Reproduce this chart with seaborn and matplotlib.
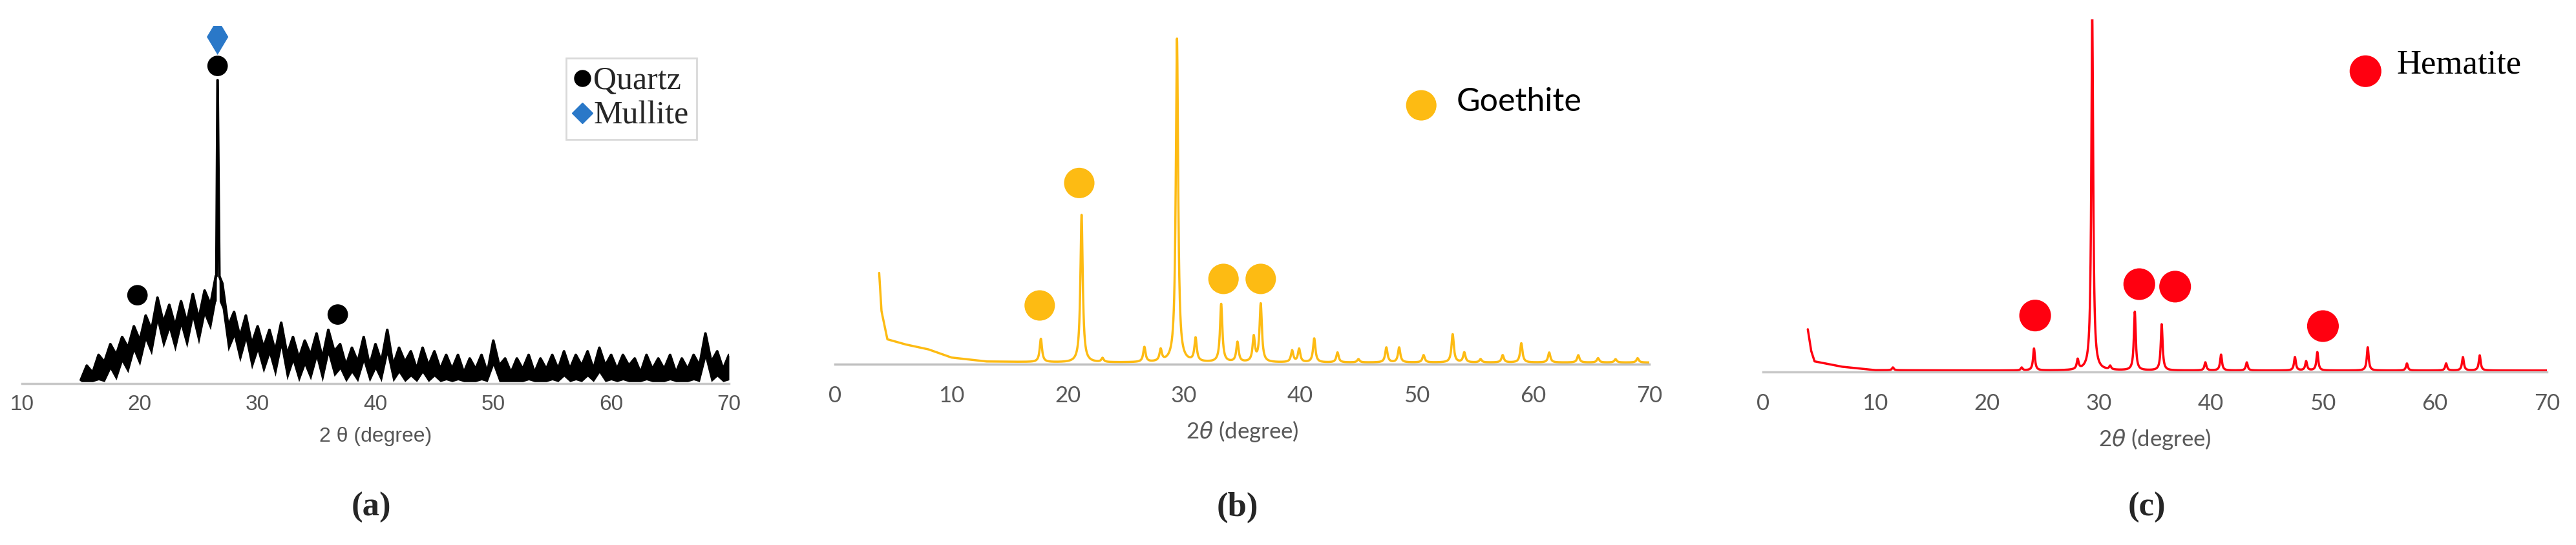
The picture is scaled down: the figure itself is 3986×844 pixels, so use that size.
import numpy as np
import pandas as pd
import matplotlib
matplotlib.use("Agg")
import matplotlib.pyplot as plt
from matplotlib.lines import Line2D
import seaborn as sns

sns.set_theme(style="white")
plt.rcParams['font.family'] = ['Liberation Sans', 'DejaVu Sans']

# ---------------- Panel (a) data ----------------
a_start, a_step = 15.0, 0.5
a_values = [0.01,0.05,0.03,0.08,0.06,0.11,0.08,0.13,0.10,0.16,
            0.12,0.19,0.15,0.24,0.17,0.22,0.16,0.23,0.17,0.25,
            0.18,0.26,0.22,0.30,0.28,0.16,0.20,0.13,0.19,0.11,
            0.16,0.10,0.15,0.09,0.17,0.08,0.13,0.07,0.12,0.08,
            0.14,0.07,0.15,0.09,0.11,0.05,0.10,0.06,0.13,0.05,
            0.11,0.06,0.15,0.05,0.10,0.06,0.09,0.04,0.10,0.05,
            0.09,0.04,0.08,0.04,0.08,0.03,0.07,0.04,0.08,0.03,
            0.12,0.05,0.07,0.03,0.07,0.04,0.08,0.03,0.07,0.04,
            0.08,0.04,0.09,0.04,0.08,0.05,0.09,0.04,0.10,0.05,
            0.08,0.04,0.08,0.05,0.07,0.03,0.08,0.04,0.07,0.04,
            0.08,0.03,0.07,0.04,0.08,0.05,0.14,0.06,0.09,0.04,
            0.08]
a_peak_theta = [26.45, 26.6, 26.75]
a_peak_vals = [0.30, 0.848, 0.30]
a_quartz_x = [19.8, 26.6, 36.8]
a_quartz_y = [0.247, 0.888, 0.193]
a_mullite_x = [26.6]
a_mullite_y = [0.969]

# ---------------- Panel (b) data ----------------
b_base_theta = [3.8, 4.0, 4.5, 6, 8, 10, 13, 20, 70]
b_base_vals = [0.275, 0.16, 0.075, 0.06, 0.045, 0.02, 0.008, 0.005, 0.005]
b_peak_pos = [17.7, 21.2, 23.0, 26.6, 28.0, 29.4, 31.0, 33.2, 34.6, 36.0, 36.6,
              39.3, 39.9, 41.2, 43.2, 45.0, 47.4, 48.5, 50.6, 53.1, 54.1, 55.5,
              57.4, 59.0, 61.4, 63.9, 65.6, 67.1, 69.0]
b_peak_h = [0.07, 0.445, 0.012, 0.045, 0.035, 0.975, 0.07, 0.175, 0.06, 0.075, 0.175,
            0.035, 0.04, 0.072, 0.03, 0.01, 0.045, 0.045, 0.022, 0.085, 0.03, 0.01,
            0.022, 0.058, 0.03, 0.022, 0.013, 0.01, 0.013]
b_mark_x = [17.6, 21.0, 33.4, 36.6]
b_mark_y = [0.177, 0.546, 0.257, 0.257]

# ---------------- Panel (c) data ----------------
c_base_theta = [4.0, 4.3, 4.6, 7, 10, 20, 70]
c_base_vals = [0.121, 0.06, 0.03, 0.015, 0.005, 0.004, 0.004]
c_peak_pos = [11.6, 23.1, 24.2, 28.1, 29.4, 31.0, 33.2, 35.6, 39.5, 40.9, 43.2,
              47.5, 48.5, 49.5, 54.0, 57.5, 61.0, 62.5, 64.0]
c_peak_h = [0.008, 0.008, 0.062, 0.028, 1.0, 0.01, 0.166, 0.131, 0.023, 0.045, 0.023,
            0.038, 0.026, 0.052, 0.066, 0.02, 0.02, 0.038, 0.043]
c_mark_x = [24.3, 33.6, 36.8, 50.0]
c_mark_y = [0.16, 0.249, 0.242, 0.13]

W, H = 3986, 844
fig = plt.figure(figsize=(W/100, H/100), dpi=100)

def box(l, r, top, bottom):
    return [l/W, 1-bottom/H, (r-l)/W, (bottom-top)/H]

def profile(start, base_t, base_v, pos, hts, width=0.12):
    x = np.linspace(start, 70, 6000)
    y = np.interp(x, base_t, base_v)
    for p, h in zip(pos, hts):
        y = y + h / (1 + ((x - p) / width) ** 2)
    return pd.DataFrame({"theta": x, "I": y})

def style_axis(ax, color="#bfbfbf"):
    for s in ["top", "right", "left"]:
        ax.spines[s].set_visible(False)
    ax.spines["bottom"].set_color(color)
    ax.spines["bottom"].set_linewidth(2.5)
    ax.set_yticks([])
    ax.set_ylabel("")

# ---- Panel a ----
axa = fig.add_axes(box(34, 1128, 40, 594))
a_theta = a_start + a_step * np.arange(len(a_values))
dfa = pd.DataFrame({"theta": np.concatenate([a_theta, a_peak_theta]),
                    "I": np.concatenate([a_values, a_peak_vals])}).sort_values("theta")
axa.fill_between(dfa["theta"], np.clip(dfa["I"] - 0.07, 0.005, None), dfa["I"],
                 color="black", lw=0)
sns.lineplot(data=dfa, x="theta", y="I", ax=axa, color="black", lw=3, sort=True)
sns.scatterplot(x=a_quartz_x, y=a_quartz_y, ax=axa, color="black", s=520, marker="o", edgecolor="none")
sns.scatterplot(x=a_mullite_x, y=a_mullite_y, ax=axa, color="#2a78c8", s=800, marker="d", edgecolor="none")
axa.set_xlim(10, 70)
axa.set_ylim(0, 1.0)
style_axis(axa, "#c8c8c8")
axa.set_xticks(range(10, 71, 10))
axa.tick_params(axis="x", direction="in", length=7, width=2, color="#c8c8c8",
                labelsize=24, labelcolor="#555555", pad=12)
axa.set_xlabel("2 θ (degree)", fontsize=23, color="#555555", labelpad=14)
handles = [Line2D([], [], marker="o", ls="", color="black", markersize=18),
           Line2D([], [], marker="D", ls="", color="#2a78c8", markersize=16)]
leg = axa.legend(handles, ["Quartz", "Mullite"], loc="upper right",
                 bbox_to_anchor=(1103/W, 1-65/H), bbox_transform=fig.transFigure,
                 prop={"family": "Liberation Serif", "size": 36}, frameon=True,
                 fancybox=False, edgecolor="#d0d0d0", handlelength=0.5,
                 handletextpad=0.1, borderpad=0.25, labelspacing=0.15)
leg.get_frame().set_linewidth(2)

# ---- Panel b ----
axb = fig.add_axes(box(1292, 2552, 50, 564))
dfb = profile(3.8, b_base_theta, b_base_vals, b_peak_pos, b_peak_h)
sns.lineplot(data=dfb, x="theta", y="I", ax=axb, color="#FDBB13", lw=2.5, sort=False)
sns.scatterplot(x=b_mark_x, y=b_mark_y, ax=axb, color="#FDBB13", s=1150, marker="o", edgecolor="none")
sns.scatterplot(x=[50.4], y=[0.78], ax=axb, color="#FDBB13", s=1150, marker="o", edgecolor="none")
axb.text(53.4, 0.79, "Goethite", fontsize=36, family="Lato", va="center", color="black")
axb.set_xlim(0, 70)
axb.set_ylim(0, 1.0)
style_axis(axb)
axb.set_xticks(range(0, 71, 10))
axb.tick_params(axis="x", length=0, labelsize=25, labelcolor="#595959", pad=24)
for t in axb.get_xticklabels():
    t.set_family("Lato")
axb.set_xlabel(r"2$\it{\theta}$ (degree)", fontsize=25, color="#595959", family="Lato", labelpad=14)

# ---- Panel c ----
axc = fig.add_axes(box(2728, 3941, 30, 576))
dfc = profile(4.0, c_base_theta, c_base_vals, c_peak_pos, c_peak_h, width=0.1)
sns.lineplot(data=dfc, x="theta", y="I", ax=axc, color="#FF0010", lw=2.5, sort=False)
sns.scatterplot(x=c_mark_x, y=c_mark_y, ax=axc, color="#FF0010", s=1250, marker="o", edgecolor="none")
sns.scatterplot(x=[53.8], y=[0.853], ax=axc, color="#FF0010", s=1250, marker="o", edgecolor="none")
axc.text(56.6, 0.87, "Hematite", fontsize=38, family="Liberation Serif", va="center", color="black")
axc.set_xlim(0, 70)
axc.set_ylim(0, 1.0)
style_axis(axc, "#c8c8c8")
axc.set_xticks(range(0, 71, 10))
axc.tick_params(axis="x", length=0, labelsize=25, labelcolor="#595959", pad=24)
for t in axc.get_xticklabels():
    t.set_family("Lato")
axc.set_xlabel(r"2$\it{\theta}$ (degree)", fontsize=25, color="#595959", family="Lato", labelpad=14)

# panel letters
for x, lab in [(574, "(a)"), (1915, "(b)"), (3322, "(c)")]:
    fig.text(x/W, 1-786/H, lab, ha="center", va="center", fontsize=38,
             family="Liberation Serif", fontweight="bold")

fig.savefig("out.png", dpi=100, facecolor="white")
